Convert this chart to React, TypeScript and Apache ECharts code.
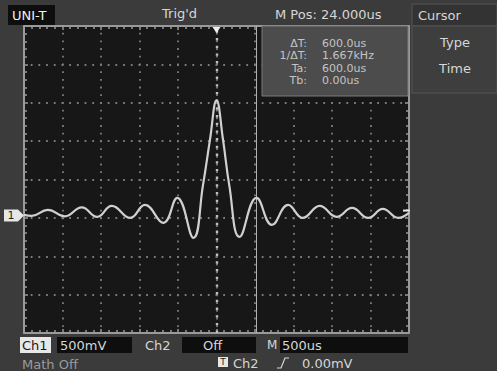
import React, { useEffect, useRef } from "react";
import * as echarts from "echarts";

// Waveform: time (us, trigger at 0) and CH1 voltage (mV)
const timeUs = [
  -2500, -2400, -2190, -1970, -1750, -1550, -1360, -1120, -930, -690, -510, -300,
  -175, -85, 0, 85, 165, 300, 520, 720, 930, 1120, 1340, 1560, 1760, 1970, 2160,
  2360, 2500,
];
const ch1mV = [
  -461, -474, -396, -480, -363, -487, -344, -500, -331, -565, -240, -760,
  -70, 516, 1030, 516, -70, -747, -240, -591, -331, -500, -344, -487, -370, -500,
  -383, -500, -435,
];

const X_MIN = -2500;
const X_MAX = 2500;
const X_DIV = 500; // 500us/div
const Y_MIN = -2000;
const Y_MAX = 2000;
const Y_DIV = 500; // 500mV/div
const CURSOR_TA_US = 510;
const CURSOR_TB_US = 0;
const CH1_GROUND_MV = -470;

const readoutLabels = ["ΔT:", "1/ΔT:", "Ta:", "Tb:"];
const readoutValues = ["600.0us", "1.667kHz", "600.0us", "0.00us"];

const FONT = "DejaVu Sans";
const DOT = "#7c7c7c";
const TXT = "#d6d6d6";

export default function App() {
  const ref = useRef<HTMLDivElement>(null);
  useEffect(() => {
    document.body.style.margin = "0";
    const chart = echarts.init(ref.current!, null, { renderer: "svg" });

    const axisCommon = {
      type: "value" as const,
      axisLabel: { show: false },
      axisLine: { show: true, onZero: false, lineStyle: { color: "#9a9a9a", width: 2 } },
      axisTick: { show: true, inside: true, length: 4, lineStyle: { color: "#9a9a9a", width: 1.5 } },
      minorTick: { show: true, splitNumber: 5, length: 3, lineStyle: { color: "#9a9a9a", width: 1.5 } },
    };
    const dotted = { color: DOT, width: 1.8, type: [1.8, 5.9] as number[], dashOffset: 0.9 };

    const data = timeUs.map((t, i) => [t, ch1mV[i]]);

    chart.setOption({
      animation: false,
      backgroundColor: "#3b3b3b",
      grid: {
        left: 24,
        top: 26,
        width: 385,
        height: 307,
        show: true,
        backgroundColor: "#171717",
        borderWidth: 0,
      },
      xAxis: [
        { ...axisCommon, min: X_MIN, max: X_MAX, interval: X_DIV, position: "bottom",
          splitLine: { show: true, lineStyle: dotted } },
        { ...axisCommon, min: X_MIN, max: X_MAX, interval: X_DIV, position: "top",
          splitLine: { show: false } },
      ],
      yAxis: [
        { ...axisCommon, min: Y_MIN, max: Y_MAX, interval: Y_DIV, position: "left",
          splitLine: { show: true, lineStyle: dotted } },
        { ...axisCommon, min: Y_MIN, max: Y_MAX, interval: Y_DIV, position: "right",
          splitLine: { show: false } },
      ],
      series: [
        {
          type: "line",
          data,
          smooth: 0.45,
          showSymbol: false,
          symbol: "none",
          lineStyle: { color: "#d0d0d0", width: 2.2 },
          z: 5,
          markLine: {
            silent: true,
            symbol: "none",
            label: { show: false },
            data: [
              { xAxis: CURSOR_TB_US, lineStyle: { color: "#c0c0c0", width: 2.4, type: [2.4, 5.3] } },
              { xAxis: CURSOR_TA_US, lineStyle: { color: "#b0b0b0", width: 1, type: "solid" } },
            ],
          },
        },
      ],
    });

    const [tx, ty] = chart.convertToPixel({ xAxisIndex: 0, yAxisIndex: 0 }, [CURSOR_TB_US, Y_MAX]) as number[];
    const [gx, gy] = chart.convertToPixel({ xAxisIndex: 0, yAxisIndex: 0 }, [X_MIN, CH1_GROUND_MV]) as number[];
    const [rx] = chart.convertToPixel({ xAxisIndex: 0, yAxisIndex: 0 }, [X_MAX, 0]) as number[];

    const txt = (x: number, y: number, text: string, opts: any = {}) => ({
      type: "text",
      x,
      y,
      z: 100,
      style: {
        text,
        fill: opts.fill || TXT,
        font: `${opts.size || 13}px "${FONT}"`,
        textAlign: opts.align || "left",
        textVerticalAlign: "middle",
      },
    });
    const box = (x: number, y: number, w: number, h: number, fill: string, stroke?: string) => ({
      type: "rect",
      z: 90,
      shape: { x, y, width: w, height: h },
      style: { fill, stroke: stroke || null, lineWidth: 1 },
    });

    const readout: any[] = [box(262, 26, 146, 70, "#4c4c4c", "#7a7a7a")];
    readoutLabels.forEach((l, i) => {
      readout.push(txt(307, 43 + i * 12.5, l, { align: "right", size: 11, fill: "#c4c4c4" }));
      readout.push(txt(322, 43 + i * 12.5, readoutValues[i], { size: 11, fill: "#c4c4c4" }));
    });

    chart.setOption({
      graphic: [
        // top bar
        box(8, 5, 47, 20, "#0e0e0e"),
        txt(12, 15, "UNI-T", { fill: "#f0f0f0", size: 13 }),
        txt(162, 13, "Trig'd"),
        txt(275, 14, "M Pos: 24.000us"),
        // right panel
        box(412, 4, 85, 22, "#333333", "#555555"),
        txt(418, 15, "Cursor"),
        box(412, 26, 85, 67, "#3e3e3e", "#555555"),
        txt(455, 42, "Type", { align: "center" }),
        txt(455, 68, "Time", { align: "center" }),
        // cursor readout
        ...readout,
        // trigger position marker
        {
          type: "polygon",
          z: 100,
          shape: { points: [[tx - 4, ty + 1], [tx + 4, ty + 1], [tx, ty + 7]] },
          style: { fill: "#f0f0f0" },
        },
        // channel 1 ground marker
        {
          type: "polygon",
          z: 100,
          shape: { points: [[gx - 20, gy - 6], [gx - 6, gy - 6], [gx, gy], [gx - 6, gy + 6], [gx - 20, gy + 6]] },
          style: { fill: "#e6e6e6" },
        },
        txt(gx - 13, gy, "1", { fill: "#222", size: 11, align: "center" }),
        // trigger level marker at right
        {
          type: "polygon",
          z: 100,
          shape: { points: [[rx + 1, gy - 6], [rx - 6, gy - 6], [rx - 6, gy - 4], [rx + 1, gy - 4]] },
          style: { fill: "#e6e6e6" },
        },
        // bottom bar row 1
        box(20, 337, 31, 16, "#e8e8e8"),
        txt(22, 345, "Ch1", { fill: "#1a1a1a" }),
        box(57, 337, 75, 16, "#0e0e0e"),
        txt(60, 345, "500mV"),
        txt(145, 345, "Ch2"),
        box(182, 337, 74, 16, "#0e0e0e"),
        txt(203, 345, "Off"),
        txt(267, 345, "M", { size: 12 }),
        box(280, 337, 128, 16, "#0e0e0e"),
        txt(282, 345, "500us"),
        // bottom bar row 2
        txt(22, 364, "Math Off", { fill: "#9a9a9a" }),
        box(218, 357, 10, 10, "#e8e8e8"),
        txt(223, 362, "T", { fill: "#1a1a1a", size: 9, align: "center" }),
        txt(233, 363, "Ch2"),
        {
          type: "polyline",
          z: 100,
          shape: { points: [[277, 368], [281, 368], [285, 358], [289, 358]] },
          style: { stroke: TXT, lineWidth: 1.2, fill: null },
        },
        txt(302, 363, "0.00mV"),
      ],
    });

    return () => chart.dispose();
  }, []);
  return <div ref={ref} style={{ width: 497, height: 371 }} />;
}
